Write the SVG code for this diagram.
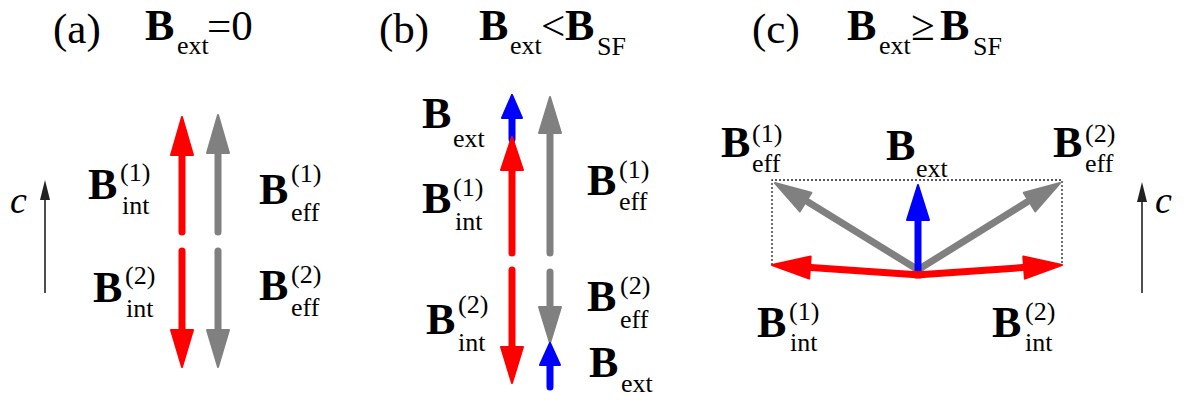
<svg xmlns="http://www.w3.org/2000/svg" width="1188" height="403" viewBox="0 0 1188 403">
<style>
text{font-family:'Liberation Serif','Times New Roman',serif;fill:#000}
.h{font-size:43px}
.b{font-size:44px;font-weight:bold}
.s{font-size:26px}
.c{font-size:38px;font-style:italic}
.red{stroke:#ff0000;fill:#ff0000}
.gray{stroke:#808080;fill:#808080}
.blue{stroke:#0000ff;fill:#0000ff}
.sh{stroke-width:7;stroke-linecap:round;fill:none}
.hd{stroke-width:2;stroke-linejoin:round}
.ax{stroke:#222;stroke-width:1.6;fill:none}
.axh{fill:#222;stroke:none}
.dot{stroke:#222;stroke-width:1.3;stroke-dasharray:2 2;fill:none}
</style>
<rect width="1188" height="403" fill="#fff"/>

<g id="title-a">
<text class="h" x="53" y="43">(a)</text>
<text class="b" x="145" y="40">B</text><text class="s" x="177" y="54">ext</text><text class="h" x="207" y="40">=0</text>
</g>
<g id="title-b">
<text class="h" x="379" y="43">(b)</text>
<text class="b" x="479" y="40">B</text><text class="s" x="510" y="54">ext</text><text class="h" x="541" y="40">&lt;</text><text class="b" x="565" y="40">B</text><text class="s" x="597" y="55">SF</text>
</g>
<g id="title-c">
<text class="h" x="752" y="43">(c)</text>
<text class="b" x="847" y="40">B</text><text class="s" x="879" y="54">ext</text><text class="h" x="911" y="40">≥</text><text class="b" x="940" y="40">B</text><text class="s" x="973" y="55">SF</text>
</g>

<g id="connectors">
<g id="a-vectors">
<path class="red sh" d="M182 232V152"/><polygon class="red hd" points="182,117 171,155 193,155"/>
<path class="gray sh" d="M218 232V150"/><polygon class="gray hd" points="218,115 207,153 229,153"/>
<path class="red sh" d="M182 251V332"/><polygon class="red hd" points="182,367 171,330 193,330"/>
<path class="gray sh" d="M218 251V332"/><polygon class="gray hd" points="218,367 207,330 229,330"/>
<path class="ax" d="M45 293V195"/><polygon class="axh" points="45,180 40,200 50,200"/>
</g>
<g id="b-vectors">
<path class="blue sh" d="M512 139V116"/><polygon class="blue hd" points="512,95 502,118 522,118"/>
<path class="red sh" d="M512 253V168"/><polygon class="red hd" points="512,137 501,170 523,170"/>
<path class="gray sh" d="M550 253V130"/><polygon class="gray hd" points="550,97 539,133 561,133"/>
<path class="red sh" d="M512 270V349"/><polygon class="red hd" points="512,383 501,347 523,347"/>
<path class="gray sh" d="M550 272V309"/><polygon class="gray hd" points="550,343 539,307 561,307"/>
<path class="blue sh" d="M550 387V363"/><polygon class="blue hd" points="550,343 540,365 560,365"/>
</g>
<g id="c-vectors">
<path class="dot" d="M772 265V180H1062V265"/>
<path class="gray sh" d="M920 271L808 202"/><polygon class="gray hd" points="775,183 811.4,192.7 799.8,211.4"/>
<path class="gray sh" d="M916 271L1027 202"/><polygon class="gray hd" points="1060,183 1035.3,211.4 1023.7,192.8"/>
<path class="blue sh" d="M918 273V218"/><polygon class="blue hd" points="918,185 907,220 929,220"/>
<path class="red sh" d="M920 275L811 267.6"/><polygon class="red hd" points="772,265 810.7,256.6 809.2,278.6"/>
<path class="red sh" d="M916 275L1023 267.6"/><polygon class="red hd" points="1062,265 1024.9,278.6 1023.3,256.6"/>
<path class="ax" d="M1142 293V197"/><polygon class="axh" points="1142,182 1137,202 1147,202"/>
</g>
</g>

<g id="a-c"><text class="c" x="10" y="213">c</text></g>
<g id="a-Bint1"><text class="b" x="88" y="199">B</text><text class="s" x="120" y="181">(1)</text><text class="s" x="122" y="214">int</text></g>
<g id="a-Beff1"><text class="b" x="259" y="204">B</text><text class="s" x="291" y="182">(1)</text><text class="s" x="291" y="221">eff</text></g>
<g id="a-Bint2"><text class="b" x="93" y="302">B</text><text class="s" x="125" y="284">(2)</text><text class="s" x="126" y="317">int</text></g>
<g id="a-Beff2"><text class="b" x="259" y="300">B</text><text class="s" x="291" y="283">(2)</text><text class="s" x="291" y="316">eff</text></g>

<g id="b-Bext-top"><text class="b" x="422" y="128">B</text><text class="s" x="453" y="147">ext</text></g>
<g id="b-Bint1"><text class="b" x="422" y="213">B</text><text class="s" x="453" y="196">(1)</text><text class="s" x="455" y="230">int</text></g>
<g id="b-Beff1"><text class="b" x="587" y="195">B</text><text class="s" x="619" y="178">(1)</text><text class="s" x="619" y="210">eff</text></g>
<g id="b-Bint2"><text class="b" x="426" y="334">B</text><text class="s" x="458" y="313">(2)</text><text class="s" x="458" y="351">int</text></g>
<g id="b-Beff2"><text class="b" x="587" y="311">B</text><text class="s" x="620" y="294">(2)</text><text class="s" x="620" y="328">eff</text></g>
<g id="b-Bext-bottom"><text class="b" x="589" y="377">B</text><text class="s" x="621" y="392">ext</text></g>

<g id="c-Beff1"><text class="b" x="721" y="157">B</text><text class="s" x="752" y="142">(1)</text><text class="s" x="752" y="172">eff</text></g>
<g id="c-Bext"><text class="b" x="886" y="160">B</text><text class="s" x="916" y="177">ext</text></g>
<g id="c-Beff2"><text class="b" x="1053" y="157">B</text><text class="s" x="1085" y="142">(2)</text><text class="s" x="1085" y="172">eff</text></g>
<g id="c-Bint1"><text class="b" x="757" y="337">B</text><text class="s" x="789" y="320">(1)</text><text class="s" x="790" y="351">int</text></g>
<g id="c-Bint2"><text class="b" x="992" y="337">B</text><text class="s" x="1025" y="320">(2)</text><text class="s" x="1025" y="351">int</text></g>
<g id="c-c"><text class="c" x="1155" y="213">c</text></g>
</svg>
